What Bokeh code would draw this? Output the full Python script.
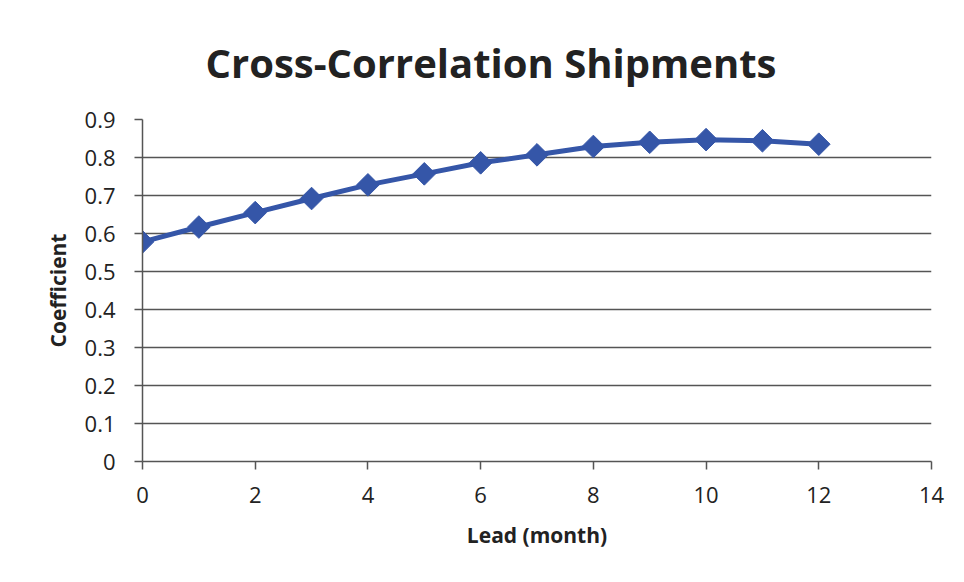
from bokeh.plotting import figure
from bokeh.models import FixedTicker, Range1d
from bokeh.embed import file_html
from bokeh.resources import INLINE

lead = [0, 1, 2, 3, 4, 5, 6, 7, 8, 9, 10, 11, 12]
coefficient = [0.578, 0.617, 0.655, 0.692, 0.728, 0.757, 0.786, 0.807, 0.829, 0.840, 0.847, 0.844, 0.835]
x_ticks = [0, 2, 4, 6, 8, 10, 12, 14]
y_ticks = [0, 0.1, 0.2, 0.3, 0.4, 0.5, 0.6, 0.7, 0.8, 0.9]

FONT = "Open Sans"
p = figure(width=956, height=574, output_backend="svg", toolbar_location=None,
           x_range=Range1d(0, 14), y_range=Range1d(0, 0.9),
           min_border_left=142, min_border_right=25, min_border_top=119, min_border_bottom=113)
p.title.text = "Cross-Correlation Shipments"
p.title.text_font = FONT
p.title.text_font_size = "40px"
p.title.text_font_style = "bold"
p.title.align = "left"
p.title.offset = 63
p.title.standoff = 60
p.title.text_color = "#222222"

p.outline_line_color = None
p.xgrid.grid_line_color = None
p.ygrid.grid_line_color = "#555555"
p.ygrid.grid_line_width = 1.5
p.ygrid.ticker = FixedTicker(ticks=y_ticks)

p.xaxis.ticker = FixedTicker(ticks=x_ticks)
p.yaxis.ticker = FixedTicker(ticks=y_ticks)
p.yaxis.major_label_overrides = {0: "0"}
for ax in (p.xaxis, p.yaxis):
    ax.axis_line_color = "#555555"
    ax.axis_line_width = 1.5
    ax.major_tick_line_color = "#555555"
    ax.major_tick_line_width = 1.5
    ax.major_tick_in = 0
    ax.major_tick_out = 8
    ax.minor_tick_line_color = None
    ax.major_label_text_font = FONT
    ax.major_label_text_font_size = "22px"
    ax.major_label_text_color = "#222222"
    ax.axis_label_text_font = FONT
    ax.axis_label_text_font_size = "21px"
    ax.axis_label_text_font_style = "bold"
    ax.axis_label_text_color = "#222222"
p.xaxis.axis_label = "Lead (month)"
p.yaxis.axis_label = "Coefficient"
p.xaxis.major_label_standoff = 17
p.xaxis.axis_label_standoff = 15
p.yaxis.major_label_standoff = 19
p.yaxis.axis_label_standoff = 10

p.line(lead, coefficient, line_color="#3556a8", line_width=5)
p.scatter(lead, coefficient, marker="square", angle=0.785398, size=16,
          fill_color="#3556a8", line_color="#3556a8")

open("out.html", "w").write(file_html(p, INLINE))
